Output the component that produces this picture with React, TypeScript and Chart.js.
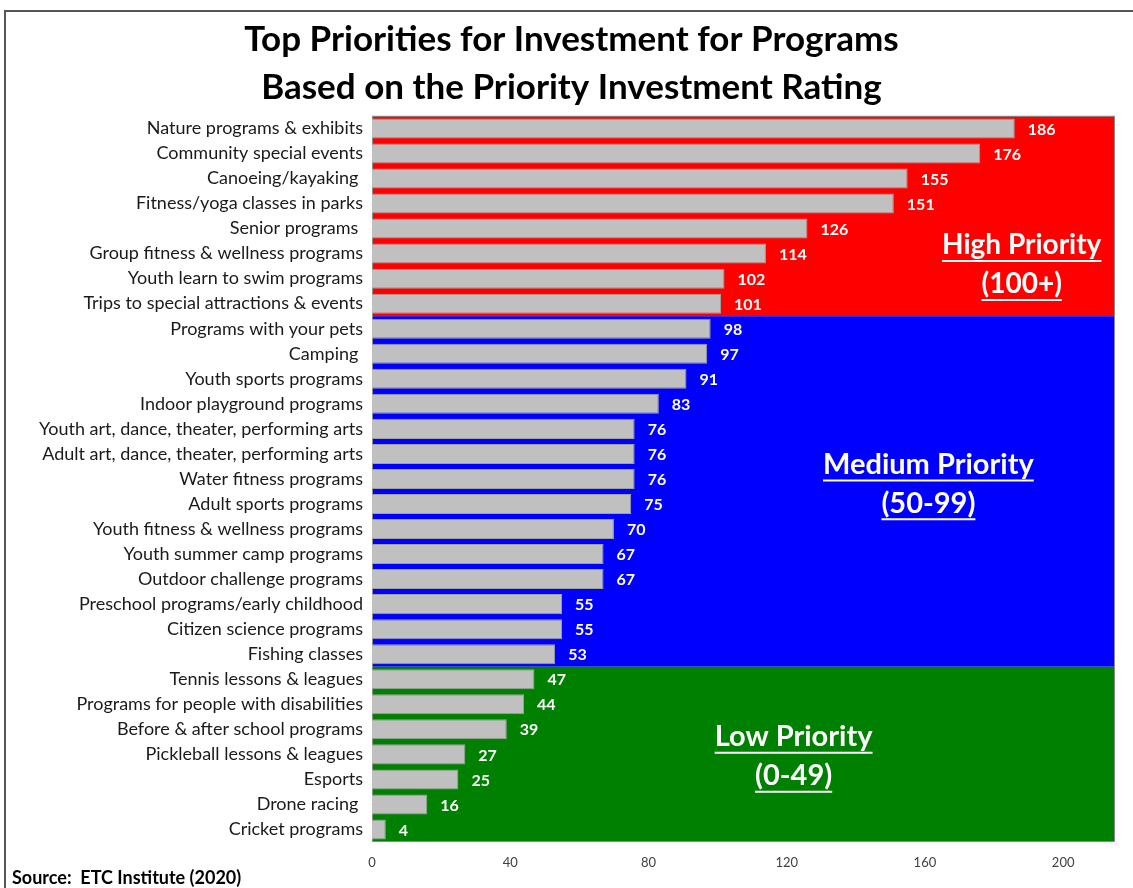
import React, { useEffect, useRef } from 'react';
import { Chart, registerables } from 'chart.js';

Chart.register(...registerables);

const titleLines = ['Top Priorities for Investment for Programs', 'Based on the Priority Investment Rating'];

const categories = [
  'Nature programs & exhibits',
  'Community special events',
  'Canoeing/kayaking ',
  'Fitness/yoga classes in parks',
  'Senior programs ',
  'Group fitness & wellness programs',
  'Youth learn to swim programs',
  'Trips to special attractions & events',
  'Programs with your pets',
  'Camping ',
  'Youth sports programs',
  'Indoor playground programs',
  'Youth art, dance, theater, performing arts',
  'Adult art, dance, theater, performing arts',
  'Water fitness programs',
  'Adult sports programs',
  'Youth fitness & wellness programs',
  'Youth summer camp programs',
  'Outdoor challenge programs',
  'Preschool programs/early childhood',
  'Citizen science programs',
  'Fishing classes',
  'Tennis lessons & leagues',
  'Programs for people with disabilities',
  'Before & after school programs',
  'Pickleball lessons & leagues',
  'Esports',
  'Drone racing ',
  'Cricket programs',
];

const values = [186, 176, 155, 151, 126, 114, 102, 101, 98, 97, 91, 83, 76, 76, 76, 75, 70, 67, 67, 55, 55, 53, 47, 44, 39, 27, 25, 16, 4];

const xTicks = [0, 40, 80, 120, 160, 200];

const bandNames = ['High Priority', 'Medium Priority', 'Low Priority'];
const bandRanges = ['(100+)', '(50-99)', '(0-49)'];
const bandFirstRow = [0, 8, 22];
const bandLastRow = [7, 21, 28];
const bandColors = ['#ff0000', '#0000ff', '#008000'];
const bandTextX = [188, 161, 122];
const bandTextRow = [4.66, 13.42, 24.3];

const sourceText = 'Source:  ETC Institute (2020)';

const FONT = 'Lato, "Open Sans", sans-serif';

export default function App() {
  const ref = useRef<HTMLCanvasElement | null>(null);

  useEffect(() => {
    if (!ref.current) return;

    const bandsPlugin = {
      id: 'bands',
      beforeDatasetsDraw(chart: any) {
        const { ctx, chartArea, scales } = chart;
        const y = scales.y;
        const half = (y.getPixelForValue(1) - y.getPixelForValue(0)) / 2;
        ctx.save();
        for (let b = 0; b < bandColors.length; b++) {
          const top = y.getPixelForValue(bandFirstRow[b]) - half;
          const bottom = y.getPixelForValue(bandLastRow[b]) + half;
          ctx.fillStyle = bandColors[b];
          ctx.fillRect(chartArea.left, top, chartArea.right - chartArea.left, bottom - top);
        }
        ctx.strokeStyle = '#8a8a8a';
        ctx.lineWidth = 1;
        ctx.strokeRect(chartArea.left + 0.5, chartArea.top + 0.5, chartArea.right - chartArea.left - 1, chartArea.bottom - chartArea.top - 1);
        ctx.restore();
      },
      afterDatasetsDraw(chart: any) {
        const { ctx, scales } = chart;
        const x = scales.x;
        const y = scales.y;
        ctx.save();
        ctx.font = `bold 16px ${FONT}`;
        ctx.fillStyle = '#ffffff';
        ctx.textAlign = 'left';
        ctx.textBaseline = 'middle';
        values.forEach((v, i) => {
          ctx.fillText(String(v), x.getPixelForValue(v) + 13, y.getPixelForValue(i) + 1);
        });
        const step = y.getPixelForValue(1) - y.getPixelForValue(0);
        ctx.textAlign = 'center';
        ctx.textBaseline = 'middle';
        ctx.strokeStyle = '#ffffff';
        ctx.lineWidth = 2;
        for (let b = 0; b < bandNames.length; b++) {
          ctx.font = `bold ${b === 0 ? 28 : 29}px ${FONT}`;
          const cx = x.getPixelForValue(bandTextX[b]);
          const y1 = y.getPixelForValue(bandTextRow[b]);
          const lines = [bandNames[b], bandRanges[b]];
          lines.forEach((t, k) => {
            const ly = y1 + k * step * 1.55;
            ctx.fillText(t, cx, ly);
            const w = ctx.measureText(t).width;
            ctx.beginPath();
            ctx.moveTo(cx - w / 2, ly + 16);
            ctx.lineTo(cx + w / 2, ly + 16);
            ctx.stroke();
          });
        }
        ctx.restore();
      },
      afterDraw(chart: any) {
        const { ctx } = chart;
        ctx.save();
        ctx.strokeStyle = '#555555';
        ctx.lineWidth = 2;
        ctx.beginPath();
        ctx.moveTo(1133, 11);
        ctx.lineTo(5, 11);
        ctx.lineTo(5, 888);
        ctx.stroke();
        ctx.font = `bold 18px ${FONT}`;
        ctx.fillStyle = '#000000';
        ctx.textAlign = 'left';
        ctx.textBaseline = 'middle';
        ctx.fillText(sourceText, 12, 878);
        ctx.restore();
      },
    };

    const chart = new Chart(ref.current, {
      type: 'bar',
      data: {
        labels: categories,
        datasets: [
          {
            data: values,
            backgroundColor: '#c0c0c0',
            borderColor: '#a0a0a0',
            borderWidth: 1,
            barPercentage: 0.8,
            categoryPercentage: 1,
          },
        ],
      },
      options: {
        indexAxis: 'y',
        responsive: false,
        animation: false,
        layout: { padding: { left: 28, right: 18, top: 0, bottom: 0 } },
        plugins: {
          legend: { display: false },
          tooltip: { enabled: false },
          title: {
            display: true,
            text: titleLines,
            color: '#000000',
            font: { family: FONT, size: 35, weight: 'bold', lineHeight: 1.37 },
            padding: { top: 16, bottom: 4 },
          },
        },
        scales: {
          x: {
            min: 0,
            max: 215,
            grid: { display: false, drawTicks: false },
            border: { display: false },
            afterBuildTicks: (scale: any) => {
              scale.ticks = xTicks.map((v) => ({ value: v }));
            },
            afterFit: (scale: any) => {
              scale.height = 46;
            },
            ticks: {
              color: '#404040',
              font: { family: FONT, size: 13 },
              padding: 13,
              maxRotation: 0,
            },
          },
          y: {
            grid: { display: false, drawTicks: false },
            border: { display: false },
            afterFit: (scale: any) => {
              scale.width = 344;
            },
            ticks: {
              autoSkip: false,
              color: '#1a1a1a',
              font: { family: FONT, size: 18 },
              padding: 9,
            },
          },
        },
      },
      plugins: [bandsPlugin],
    } as any);

    return () => chart.destroy();
  }, []);

  return (
    <div style={{ position: 'absolute', left: 0, top: 0, width: 1133, height: 888, background: '#ffffff' }}>
      <canvas ref={ref} width={1133} height={888} style={{ width: 1133, height: 888 }} />
    </div>
  );
}
